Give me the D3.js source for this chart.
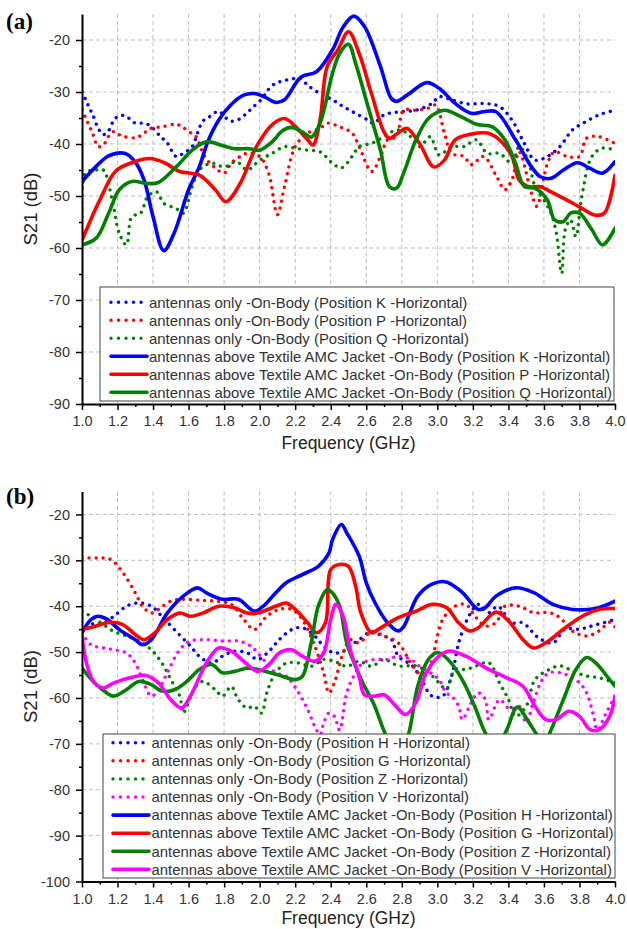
<!DOCTYPE html>
<html><head><meta charset="utf-8">
<script src="https://cdn.jsdelivr.net/npm/d3@7"></script>
<style>body{margin:0;background:#fff}</style>
</head><body>
<svg id="c" width="627" height="929" xmlns="http://www.w3.org/2000/svg"></svg>
<script>
// ---------- tick labels ----------
const xTickValues = [1.0,1.2,1.4,1.6,1.8,2.0,2.2,2.4,2.6,2.8,3.0,3.2,3.4,3.6,3.8,4.0];
const xTickLabels = ["1.0","1.2","1.4","1.6","1.8","2.0","2.2","2.4","2.6","2.8","3.0","3.2","3.4","3.6","3.8","4.0"];
const yTicksA = [-90,-80,-70,-60,-50,-40,-30,-20];
const yTicksB = [-100,-90,-80,-70,-60,-50,-40,-30,-20];

// ---------- legend labels ----------
const legendA = [
  "antennas only -On-Body (Position K -Horizontal)",
  "antennas only -On-Body (Position P -Horizontal)",
  "antennas only -On-Body (Position Q -Horizontal)",
  "antennas above Textile AMC Jacket -On-Body (Position K -Horizontal)",
  "antennas above Textile AMC Jacket -On-Body (Position P -Horizontal)",
  "antennas above Textile AMC Jacket -On-Body (Position Q -Horizontal)"
];
const legendB = [
  "antennas only -On-Body (Position H -Horizontal)",
  "antennas only -On-Body (Position G -Horizontal)",
  "antennas only -On-Body (Position Z -Horizontal)",
  "antennas only -On-Body (Position V -Horizontal)",
  "antennas above Textile AMC Jacket -On-Body (Position H -Horizontal)",
  "antennas above Textile AMC Jacket -On-Body (Position G -Horizontal)",
  "antennas above Textile AMC Jacket -On-Body (Position Z -Horizontal)",
  "antennas above Textile AMC Jacket -On-Body (Position V -Horizontal)"
];

// ---------- panel (a) series: [frequency GHz, S21 dB] ----------
const a_K_only = [[1.00,-30],[1.02,-31.4],[1.04,-33],[1.06,-34.3],[1.09,-36.9],[1.12,-38.2],[1.14,-37.8],[1.16,-36.9],[1.18,-35.3],[1.22,-34.5],[1.25,-34.7],[1.30,-36],[1.34,-36],[1.38,-36.4],[1.44,-38.5],[1.48,-39.8],[1.53,-42.4],[1.57,-41.8],[1.62,-40.5],[1.65,-37.9],[1.68,-35.6],[1.72,-34.7],[1.77,-33.7],[1.81,-35],[1.84,-35.6],[1.88,-35.3],[1.92,-34.3],[1.96,-33],[2.01,-31.4],[2.05,-29.5],[2.09,-28.3],[2.13,-27.9],[2.18,-27.5],[2.23,-27.4],[2.27,-28.7],[2.34,-30.3],[2.41,-31.5],[2.47,-32.8],[2.54,-34.1],[2.61,-35.4],[2.64,-36],[2.70,-34.4],[2.79,-33.8],[2.88,-33.5],[2.97,-32.2],[3.01,-30.9],[3.08,-31.5],[3.17,-32.3],[3.26,-32.2],[3.35,-32.8],[3.42,-35.4],[3.49,-39.9],[3.55,-43.1],[3.62,-42.4],[3.69,-40.5],[3.76,-37.3],[3.82,-36],[3.91,-34.4],[4.00,-33.5]];
const a_P_only = [[1.00,-33.4],[1.02,-35],[1.04,-36.5],[1.06,-37.9],[1.09,-40.5],[1.12,-40.2],[1.15,-38.5],[1.18,-37.6],[1.22,-38.4],[1.30,-38.8],[1.34,-38.2],[1.38,-37.1],[1.45,-36.7],[1.53,-36.2],[1.56,-36.6],[1.60,-37.6],[1.64,-38.5],[1.69,-42.4],[1.75,-44.6],[1.80,-45.6],[1.84,-43.7],[1.89,-42.4],[1.93,-41.8],[2.00,-42.4],[2.05,-45.6],[2.10,-53.6],[2.14,-48.2],[2.20,-40.5],[2.27,-37.9],[2.34,-37],[2.38,-36],[2.45,-36.7],[2.52,-37.9],[2.56,-40.5],[2.63,-45.3],[2.68,-42.4],[2.72,-39.2],[2.77,-38.6],[2.81,-33.5],[2.88,-33.5],[2.95,-33.1],[2.99,-32.5],[3.04,-37.9],[3.08,-41.8],[3.15,-42.4],[3.19,-44],[3.26,-42.4],[3.33,-46],[3.38,-48.8],[3.42,-46.9],[3.46,-41.5],[3.53,-49.5],[3.56,-52],[3.62,-43.7],[3.66,-41.5],[3.73,-42.4],[3.80,-42.4],[3.84,-38.9],[3.91,-38.6],[4.00,-39.9]];
const a_Q_only = [[1.00,-54],[1.02,-45.6],[1.08,-45],[1.12,-45],[1.17,-50.8],[1.21,-57.2],[1.25,-59.4],[1.28,-54],[1.33,-53.3],[1.37,-50.1],[1.42,-49.2],[1.46,-51.4],[1.53,-52.4],[1.57,-53.3],[1.62,-48.2],[1.66,-45],[1.73,-43.7],[1.80,-44.4],[1.87,-43.4],[1.93,-45],[2.00,-43.1],[2.07,-41.8],[2.14,-40.5],[2.20,-40.8],[2.27,-41.2],[2.34,-41.5],[2.41,-43.7],[2.46,-44.6],[2.52,-42.4],[2.56,-40.5],[2.63,-39.9],[2.70,-38.6],[2.77,-37.3],[2.83,-37.9],[2.90,-40.5],[2.96,-38.6],[3.01,-42.1],[3.08,-40.5],[3.15,-40.5],[3.22,-39.2],[3.28,-41.8],[3.35,-41.8],[3.42,-43.7],[3.46,-40.5],[3.51,-43.1],[3.55,-48.2],[3.60,-50.8],[3.64,-53.3],[3.67,-57.2],[3.70,-64.9],[3.72,-56.5],[3.75,-54.6],[3.78,-57.8],[3.81,-50.8],[3.87,-42.4],[3.93,-40.8],[4.00,-41.2]];
const a_K_amc = [[1.00,-47.2],[1.08,-44.3],[1.15,-42.3],[1.24,-41.8],[1.30,-43.5],[1.35,-47],[1.40,-54],[1.46,-60.5],[1.52,-57],[1.60,-48.8],[1.66,-44.4],[1.71,-39.4],[1.77,-35.4],[1.84,-32.4],[1.91,-30.6],[1.97,-30.3],[2.03,-31],[2.09,-32],[2.14,-31.5],[2.23,-27.2],[2.32,-26.1],[2.41,-21.9],[2.47,-17.5],[2.53,-15.4],[2.59,-17.4],[2.68,-25.1],[2.74,-31.2],[2.77,-31.8],[2.83,-30.6],[2.94,-28.2],[3.01,-29.3],[3.10,-32.2],[3.19,-34.1],[3.26,-33.8],[3.33,-33.8],[3.44,-39.2],[3.53,-44.4],[3.58,-46.3],[3.64,-46.6],[3.71,-45],[3.79,-43.6],[3.86,-44.7],[3.93,-45.6],[4.00,-43.4]];
const a_P_amc = [[1.00,-58.5],[1.05,-54.5],[1.10,-50.8],[1.19,-45.2],[1.28,-43.6],[1.38,-42.8],[1.47,-43.7],[1.55,-45.3],[1.66,-46],[1.75,-48.8],[1.81,-51.1],[1.89,-47.6],[1.98,-40.6],[2.07,-36.3],[2.14,-35.1],[2.20,-36.6],[2.27,-39.2],[2.30,-40.2],[2.34,-35.4],[2.38,-25.1],[2.44,-21.9],[2.50,-18.4],[2.56,-22.6],[2.63,-30.4],[2.70,-37.7],[2.73,-38.9],[2.79,-37.6],[2.83,-37],[2.90,-39.9],[2.98,-44.4],[3.04,-43.1],[3.10,-39.2],[3.19,-38.1],[3.28,-37.9],[3.35,-39.2],[3.42,-42.4],[3.46,-46.9],[3.51,-48.2],[3.58,-48.2],[3.64,-49.2],[3.73,-50.8],[3.80,-52.1],[3.89,-53.7],[3.94,-53.3],[4.00,-46]];
const a_Q_amc = [[1.00,-59.4],[1.08,-58.1],[1.15,-53.3],[1.21,-48.8],[1.28,-47.2],[1.37,-47.6],[1.43,-47.4],[1.53,-44.4],[1.62,-41.2],[1.68,-39.8],[1.72,-39.6],[1.79,-40.3],[1.86,-40.9],[1.94,-40.9],[2.00,-41.2],[2.07,-39.6],[2.13,-37.4],[2.18,-36.8],[2.25,-37.9],[2.29,-38.7],[2.34,-36],[2.41,-26.4],[2.45,-22.6],[2.50,-20.8],[2.54,-24.5],[2.61,-32.8],[2.68,-41.2],[2.73,-48.2],[2.77,-48.5],[2.81,-45.6],[2.88,-39.2],[2.95,-35.1],[3.04,-33.5],[3.13,-34.7],[3.22,-36.2],[3.31,-36.7],[3.38,-39.2],[3.44,-43.7],[3.49,-48.2],[3.55,-48.5],[3.62,-50.8],[3.66,-54.6],[3.71,-54.9],[3.75,-53.3],[3.80,-53.3],[3.87,-56.5],[3.93,-59.4],[4.00,-56.2]];

// ---------- panel (b) series ----------
const b_H_only = [[1.00,-45.8],[1.05,-44],[1.12,-43.6],[1.18,-42.2],[1.25,-40],[1.32,-39.3],[1.39,-40],[1.45,-42.2],[1.52,-45.1],[1.61,-48.7],[1.66,-50.9],[1.73,-52.4],[1.79,-50.9],[1.86,-49.8],[1.93,-50.2],[1.99,-51.6],[2.06,-49.5],[2.11,-47.3],[2.18,-45.1],[2.24,-44.7],[2.31,-46.5],[2.36,-48.7],[2.42,-50.2],[2.47,-49.8],[2.51,-48.7],[2.56,-47.3],[2.63,-45.5],[2.68,-46.3],[2.74,-47.2],[2.78,-50.9],[2.86,-53],[2.91,-56],[2.97,-59.6],[3.03,-59.6],[3.08,-55.2],[3.12,-48],[3.16,-43.6],[3.20,-40.7],[3.23,-39.6],[3.29,-41.4],[3.34,-40],[3.42,-43.6],[3.48,-43.6],[3.57,-46.9],[3.65,-48],[3.72,-45],[3.80,-45],[3.87,-44.3],[4.00,-42.9]];
const b_G_only = [[1.00,-29.5],[1.09,-29.5],[1.16,-29.8],[1.23,-32.7],[1.30,-37.1],[1.34,-40],[1.39,-41.5],[1.43,-40.7],[1.50,-38.9],[1.57,-38.5],[1.66,-38.7],[1.75,-38.9],[1.84,-39.6],[1.91,-42.9],[1.97,-45.1],[2.04,-42.2],[2.11,-40.7],[2.18,-40.7],[2.24,-42.9],[2.31,-48.7],[2.36,-54.5],[2.39,-58.9],[2.42,-56.7],[2.47,-50.2],[2.51,-47.3],[2.56,-48],[2.63,-45.5],[2.70,-46.5],[2.78,-48],[2.86,-53],[2.91,-54.9],[2.95,-53.8],[2.98,-50.1],[3.03,-42.9],[3.10,-40],[3.16,-39.6],[3.21,-42.1],[3.27,-44.3],[3.33,-43.6],[3.38,-40],[3.46,-40],[3.54,-41.4],[3.63,-41.4],[3.69,-42.5],[3.76,-45.4],[3.84,-46.5],[3.91,-45.4],[3.97,-43.5],[4.00,-44.5]];
const b_Z_only = [[1.00,-41.1],[1.05,-42.2],[1.12,-44],[1.18,-45.5],[1.25,-46.5],[1.32,-47.6],[1.39,-49.5],[1.45,-52.4],[1.50,-56],[1.55,-59.6],[1.57,-63.3],[1.59,-61.8],[1.64,-57.5],[1.68,-56.4],[1.75,-58.2],[1.79,-59.6],[1.84,-57.5],[1.88,-60.4],[1.93,-62.2],[1.97,-61.8],[2.01,-63.3],[2.04,-58.9],[2.09,-54.5],[2.15,-52.4],[2.22,-52.4],[2.29,-53.1],[2.36,-51.6],[2.42,-52],[2.49,-53.1],[2.56,-52],[2.63,-53.1],[2.70,-51.6],[2.78,-53],[2.88,-53],[2.95,-54.5],[3.01,-56.7],[3.05,-58.1],[3.10,-53.8],[3.16,-53.8],[3.22,-53],[3.29,-52.3],[3.35,-56.7],[3.40,-60.3],[3.44,-64],[3.50,-61.8],[3.55,-56],[3.63,-53.8],[3.69,-53],[3.76,-54.1],[3.84,-55.2],[3.91,-55.6],[4.00,-56.7]];
const b_V_only = [[1.00,-45.8],[1.05,-48.4],[1.12,-49.1],[1.18,-49.5],[1.25,-50.2],[1.30,-52.4],[1.34,-56],[1.39,-59.6],[1.43,-58.2],[1.48,-54.5],[1.55,-49.5],[1.61,-47.6],[1.70,-47.3],[1.79,-47.6],[1.88,-47.6],[1.95,-48.7],[2.02,-51.6],[2.09,-54.5],[2.15,-55.3],[2.22,-58.9],[2.27,-62.5],[2.31,-66.2],[2.34,-68],[2.36,-65.5],[2.39,-63.3],[2.42,-64],[2.45,-67],[2.49,-58.9],[2.54,-54.5],[2.58,-52.4],[2.65,-51.6],[2.72,-51.6],[2.78,-50.9],[2.85,-51.6],[2.90,-53.1],[2.96,-54.5],[3.01,-56],[3.05,-58.9],[3.08,-59.6],[3.12,-61.8],[3.14,-64.7],[3.19,-61.1],[3.23,-58.9],[3.27,-60.3],[3.29,-64.7],[3.35,-60.4],[3.41,-62.5],[3.46,-61.8],[3.50,-65.4],[3.54,-61],[3.59,-56],[3.63,-54.5],[3.69,-54.5],[3.74,-55.2],[3.80,-56.7],[3.84,-58.9],[3.88,-64],[3.90,-67],[3.95,-63.3],[4.00,-59.6]];
const b_H_amc = [[1.00,-45.8],[1.05,-42.9],[1.09,-42.2],[1.14,-42.8],[1.21,-45.1],[1.30,-47.3],[1.34,-48.4],[1.39,-47.3],[1.48,-41.5],[1.57,-37.8],[1.65,-36],[1.70,-37.1],[1.79,-38.5],[1.88,-38.5],[1.97,-41.1],[2.02,-40],[2.09,-37.1],[2.15,-34.9],[2.24,-33.1],[2.33,-31.3],[2.39,-28.4],[2.41,-25.5],[2.46,-22.2],[2.49,-24],[2.56,-29.1],[2.60,-34.9],[2.65,-39.3],[2.72,-43.6],[2.78,-45.4],[2.81,-44.5],[2.89,-37.8],[2.97,-35.2],[3.05,-34.7],[3.14,-37],[3.23,-40.7],[3.27,-40.3],[3.33,-37.8],[3.44,-36],[3.54,-37],[3.65,-39.6],[3.76,-40.7],[3.89,-40.5],[4.00,-38.9]];
const b_G_amc = [[1.00,-45.1],[1.07,-44.4],[1.16,-43.5],[1.23,-44],[1.30,-46.2],[1.35,-47.3],[1.41,-45.8],[1.48,-42.9],[1.55,-41.5],[1.61,-42.2],[1.68,-41.5],[1.77,-40],[1.86,-40.4],[1.93,-41.5],[1.99,-41.5],[2.09,-40],[2.15,-39.3],[2.20,-40.7],[2.27,-43.6],[2.32,-45.8],[2.37,-43.6],[2.40,-32],[2.45,-30.9],[2.50,-31.3],[2.54,-35.6],[2.57,-41.5],[2.63,-45.8],[2.67,-45],[2.78,-42.5],[2.88,-41.1],[2.97,-39.6],[3.05,-40.3],[3.12,-43.6],[3.18,-45.4],[3.23,-44.7],[3.33,-41.3],[3.40,-43.2],[3.48,-47.2],[3.54,-49.1],[3.61,-48],[3.72,-44.7],[3.82,-42.1],[3.91,-40.7],[4.00,-40.5]];
const b_Z_amc = [[1.00,-53.5],[1.07,-56.7],[1.14,-58.9],[1.18,-59.6],[1.25,-58.2],[1.32,-56.4],[1.39,-57.1],[1.45,-58.5],[1.52,-58.2],[1.59,-56.4],[1.66,-53.8],[1.73,-52.7],[1.79,-54.5],[1.86,-54.2],[1.93,-53.5],[1.99,-53.8],[2.06,-54.5],[2.13,-55.3],[2.20,-56],[2.24,-55.3],[2.29,-48],[2.33,-40],[2.38,-36.4],[2.41,-37.1],[2.45,-40],[2.49,-48],[2.54,-53.1],[2.58,-56.7],[2.64,-61.1],[2.69,-66.2],[2.73,-70],[2.78,-74],[2.84,-67.6],[2.89,-57.4],[2.95,-51.6],[3.00,-50.1],[3.06,-51.6],[3.14,-56],[3.21,-61.8],[3.27,-67.6],[3.33,-71],[3.39,-67],[3.45,-62],[3.51,-65],[3.56,-68],[3.60,-70],[3.64,-67],[3.71,-60.3],[3.78,-53.8],[3.84,-51.2],[3.89,-52.3],[3.97,-56],[4.00,-57.4]];
const b_V_amc = [[1.00,-46.5],[1.03,-53.1],[1.07,-56.7],[1.12,-57.8],[1.18,-56.7],[1.27,-55.6],[1.36,-55.1],[1.43,-56.7],[1.50,-60.4],[1.56,-62.2],[1.61,-59.6],[1.70,-52.4],[1.77,-49.1],[1.84,-49.8],[1.91,-52],[1.99,-54.2],[2.06,-52.4],[2.11,-50.2],[2.18,-49.5],[2.24,-50.9],[2.31,-52],[2.36,-50.2],[2.40,-42.9],[2.43,-39.6],[2.47,-42.2],[2.51,-49.5],[2.56,-55.3],[2.59,-59.3],[2.65,-59.6],[2.70,-59.3],[2.76,-61.5],[2.82,-63.6],[2.88,-61],[2.93,-55.2],[2.99,-51.6],[3.06,-49.8],[3.16,-50.9],[3.27,-53.4],[3.39,-55.6],[3.48,-57.4],[3.55,-61.8],[3.61,-64.7],[3.67,-64.7],[3.74,-62.9],[3.80,-64],[3.86,-66.9],[3.91,-66.9],[3.97,-64],[4.00,-59.6]];

const BLUE="#0000ff", RED="#ff0000", GREEN="#008000", MAGENTA="#ff00ff";

const svg = d3.select("#c");
svg.append("rect").attr("width",627).attr("height",929).attr("fill","#fff");

function drawPanel(cfg){
  const x = d3.scaleLinear().domain([1,4]).range([82,615]);
  const y = d3.scaleLinear().domain(cfg.domain).range([cfg.yBot, cfg.yTop]);
  const g = svg.append("g");
  const clipId = "clip"+cfg.id;
  svg.append("clipPath").attr("id",clipId).append("rect")
    .attr("x",82).attr("y",cfg.yTop).attr("width",533).attr("height",cfg.yBot-cfg.yTop);

  // grid
  const grid = g.append("g").attr("stroke","#bdbdbd").attr("stroke-width",1).attr("stroke-dasharray","4,3");
  cfg.yTicks.filter(v=>v!==cfg.domain[0]).forEach(v=>{
    grid.append("line").attr("x1",82).attr("x2",615).attr("y1",y(v)).attr("y2",y(v));
  });
  xTickValues.filter(v=>v>1 && v<4).forEach(v=>{
    grid.append("line").attr("x1",x(v)).attr("x2",x(v)).attr("y1",cfg.yTop).attr("y2",cfg.yBot);
  });

  // series
  const line = d3.line().x(d=>x(d[0])).y(d=>y(d[1])).curve(d3.curveCatmullRom.alpha(0.5));
  const plot = g.append("g").attr("clip-path",`url(#${clipId})`);
  cfg.series.forEach(s=>{
    const p = plot.append("path").datum(s.data).attr("d",line).attr("fill","none")
      .attr("stroke",s.color).attr("stroke-linejoin","round");
    if(s.dotted){ p.attr("stroke-width",3.4).attr("stroke-dasharray","0.01,7").attr("stroke-linecap","round"); }
    else { p.attr("stroke-width",3.6).attr("stroke-linecap","round"); }
  });

  // axes
  const yAxis = d3.axisLeft(y).tickValues(cfg.yTicks).tickSize(6).tickSizeOuter(0).tickPadding(6).tickFormat(d=>d);
  const yMinor = d3.axisLeft(y).tickValues(d3.range(cfg.domain[0]+5,-15,10)).tickSize(3).tickSizeOuter(0).tickFormat("");
  const xAxis = d3.axisBottom(x).tickValues(xTickValues).tickSize(6).tickSizeOuter(0).tickPadding(5).tickFormat((d,i)=>xTickLabels[i]);
  const xMinor = d3.axisBottom(x).tickValues(d3.range(1.1,4.0,0.2)).tickSize(3).tickSizeOuter(0).tickFormat("");
  const ax = g.append("g");
  ax.append("g").attr("transform","translate(82,0)").call(yAxis);
  ax.append("g").attr("transform","translate(82,0)").call(yMinor).select(".domain").remove();
  const gx = ax.append("g").attr("transform",`translate(0,${cfg.yBot})`).call(xAxis);
  ax.append("g").attr("transform",`translate(0,${cfg.yBot})`).call(xMinor).select(".domain").remove();
  ax.selectAll(".domain").attr("stroke","#000").attr("stroke-width",2);
  ax.selectAll(".tick line").attr("stroke","#000").attr("stroke-width",1.5);
  ax.selectAll(".tick text").attr("fill","#333").style("font-family","'Liberation Sans', Arial, sans-serif").style("font-size","14.5px");
  gx.selectAll(".tick text").attr("dy","0.78em");

  // axis titles
  g.append("text").attr("transform",`translate(37,${(cfg.yTop+cfg.yBot)/2}) rotate(-90)`)
    .attr("text-anchor","middle").attr("fill","#222")
    .style("font-family","'Liberation Sans', Arial, sans-serif").style("font-size","18.5px").text("S21 (dB)");
  g.append("text").attr("x",348.5).attr("y",cfg.yBot+cfg.titleDy).attr("text-anchor","middle").attr("fill","#222")
    .style("font-family","'Liberation Sans', Arial, sans-serif").style("font-size","17.5px").text("Frequency (GHz)");

  // panel label
  g.append("text").attr("x",6).attr("y",cfg.labelY).attr("fill","#000")
    .style("font-family","'Liberation Serif', 'Times New Roman', serif").style("font-weight","bold").style("font-size","23px").text(cfg.label);

  // legend
  const L = cfg.legend;
  const lg = g.append("g");
  lg.append("rect").attr("x",L.x).attr("y",L.y).attr("width",L.w).attr("height",L.h)
    .attr("fill","#fff").attr("stroke","#444").attr("stroke-width",1);
  const texts = [];
  cfg.series.forEach((s,i)=>{
    const cy = L.row0 + i*L.step;
    const ln = lg.append("line").attr("x1",L.sx).attr("x2",s.dotted?L.sx+32:L.sx+36).attr("y1",cy).attr("y2",cy)
      .attr("stroke",s.color).attr("stroke-linecap","round");
    if(s.dotted) ln.attr("stroke-width",3.4).attr("stroke-dasharray","0.01,7.5");
    else ln.attr("stroke-width",3.6);
    const t = lg.append("text").attr("x",L.tx).attr("y",cy+5.2).attr("fill","#333")
      .style("font-family","'Liberation Sans', Arial, sans-serif").style("font-size","15px").text(cfg.labels[i]);
    texts.push(t);
  });
  const longest = d3.max(texts, t=>t.node().getComputedTextLength());
  const k = L.textW / longest;
  texts.forEach(t=>{
    const w = t.node().getComputedTextLength();
    t.attr("textLength", w*k).attr("lengthAdjust","spacingAndGlyphs");
  });
}

drawPanel({
  id:"a", domain:[-90,-15], yTop:14, yBot:404, yTicks:yTicksA, titleDy:45, label:"(a)", labelY:29,
  labels: legendA,
  legend:{x:100,y:287,w:514,h:114,row0:302.3,step:18,sx:111,tx:149,textW:463},
  series:[
    {data:a_K_only,color:BLUE,dotted:true},
    {data:a_P_only,color:RED,dotted:true},
    {data:a_Q_only,color:GREEN,dotted:true},
    {data:a_K_amc,color:BLUE,dotted:false},
    {data:a_P_amc,color:RED,dotted:false},
    {data:a_Q_amc,color:GREEN,dotted:false}
  ]
});
drawPanel({
  id:"b", domain:[-100,-15], yTop:491.5, yBot:881.5, yTicks:yTicksB, titleDy:42, label:"(b)", labelY:504,
  labels: legendB,
  legend:{x:103,y:734,w:512,h:144,row0:742.7,step:18.1,sx:113,tx:151.5,textW:462},
  series:[
    {data:b_H_only,color:BLUE,dotted:true},
    {data:b_G_only,color:RED,dotted:true},
    {data:b_Z_only,color:GREEN,dotted:true},
    {data:b_V_only,color:MAGENTA,dotted:true},
    {data:b_H_amc,color:BLUE,dotted:false},
    {data:b_G_amc,color:RED,dotted:false},
    {data:b_Z_amc,color:GREEN,dotted:false},
    {data:b_V_amc,color:MAGENTA,dotted:false}
  ]
});
</script></body></html>
